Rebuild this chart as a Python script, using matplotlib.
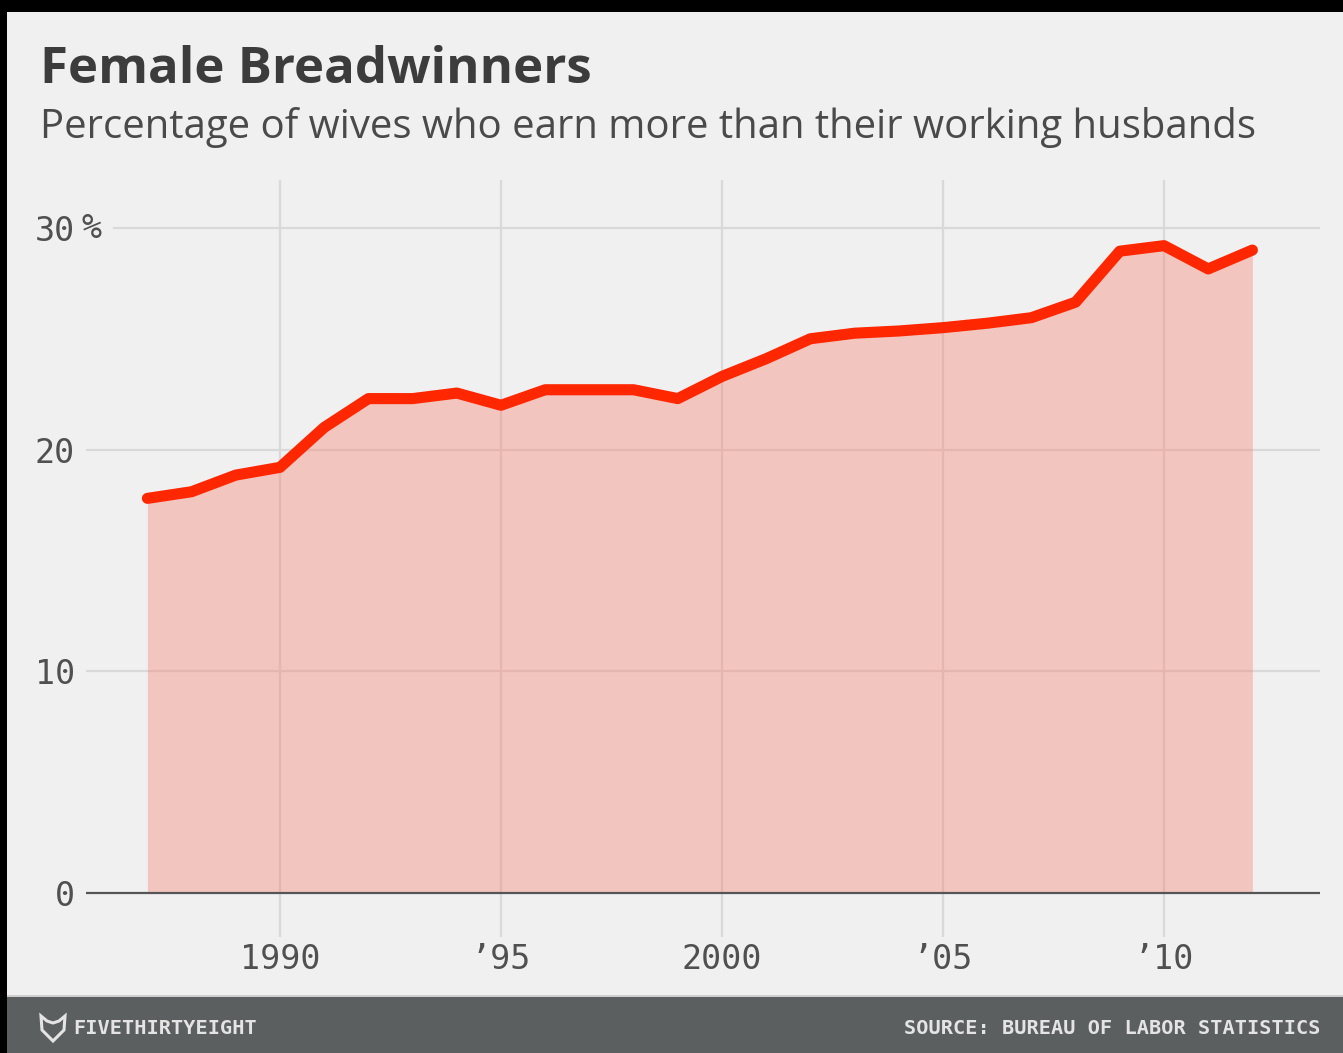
import matplotlib
matplotlib.use("Agg")
import matplotlib.pyplot as plt
from matplotlib.patches import Rectangle, Polygon

years = list(range(1987, 2013))
share = [17.8, 18.1, 18.85, 19.2, 21.0, 22.3, 22.3, 22.55, 22.0, 22.7,
         22.7, 22.7, 22.3, 23.3, 24.1, 25.0, 25.25, 25.35, 25.5, 25.7,
         25.95, 26.65, 28.95, 29.2, 28.15, 29.0]
x_ticks = [1990, 1995, 2000, 2005, 2010]
x_labels = ["1990", "\u201995", "2000", "\u201905", "\u201910"]
y_ticks = [0, 10, 20, 30]
y_labels = ["0", "10", "20", "30"]

W, H = 1343, 1053
BG = "#f0f0f0"
fig = plt.figure(figsize=(W / 100, H / 100), dpi=100)
fig.patch.set_facecolor("black")

def fx(px):
    return px / W

def fy(py):
    return 1 - py / H

# light background panel (black border on top and left)
fig.add_artist(Rectangle((fx(7), 0), 1, fy(12), transform=fig.transFigure,
                         facecolor=BG, edgecolor="none", zorder=0))
# footer band
fig.add_artist(Rectangle((fx(7), 0), 1, fy(995), transform=fig.transFigure,
                         facecolor="#cfcfcf", edgecolor="none", zorder=1))
fig.add_artist(Rectangle((fx(7), 0), 1, fy(997), transform=fig.transFigure,
                         facecolor="#5b5f60", edgecolor="none", zorder=2))

# axes
ax_l, ax_r, ax_t, ax_b = 86, 1320, 180, 937
ax = fig.add_axes([fx(ax_l), fy(ax_b), fx(ax_r - ax_l), (ax_b - ax_t) / H])
ax.set_facecolor("none")
ymin = -(ax_b - 893) / 22.17
ymax = (893 - ax_t) / 22.17
xmin = 1990 - (280 - ax_l) / 44.2
xmax = 1990 + (ax_r - 280) / 44.2
ax.set_xlim(xmin, xmax)
ax.set_ylim(ymin, ymax)

for s in ax.spines.values():
    s.set_visible(False)

grid_c = "#d9d9d9"
for xt in x_ticks:
    ax.axvline(xt, color=grid_c, lw=1.6, zorder=1)
for yt in y_ticks[1:]:
    start = (114 - ax_l) / (ax_r - ax_l) if yt == 30 else 0
    ax.axhline(yt, xmin=start, xmax=1, color=grid_c, lw=1.6, zorder=1)

ax.fill_between(years, 0, share, color="#fa7f6f", alpha=0.38, lw=0, zorder=2)
ax.axhline(0, color="#555555", lw=1.6, zorder=3)
ax.plot(years, share, color="#ff2700", lw=8, solid_capstyle="round",
        solid_joinstyle="round", zorder=4)

tick_font = dict(family="DejaVu Sans Mono", size=24, color="#505050")
ax.set_xticks(x_ticks)
ax.set_xticklabels(x_labels, **tick_font)
ax.set_yticks(y_ticks)
ax.set_yticklabels(y_labels, **tick_font)
ax.tick_params(axis="both", length=0)
ax.tick_params(axis="y", pad=8)
ax.tick_params(axis="x", pad=4)
fig.text(fx(82), fy(228), "%", ha="left", va="center", **tick_font)

# titles
fig.text(fx(40), fy(83), "Female Breadwinners", family="Open Sans", weight="bold",
         size=36.6, color="#3c3c3c", ha="left", va="baseline")
fig.text(fx(40), fy(138), "Percentage of wives who earn more than their working husbands",
         family="Open Sans", size=28.9, color="#4a4a4a", ha="left", va="baseline")

# footer
foot = dict(family="DejaVu Sans Mono", weight="bold",
            size=14.6, color="#e4e4e4", va="center")
fig.text(fx(73), fy(1029), "FIVETHIRTYEIGHT", ha="left", **foot)
fig.text(fx(1320), fy(1029), "SOURCE: BUREAU OF LABOR STATISTICS", ha="right", **foot)

# simple fox-head logo
pts = [(41, 1016), (47, 1021), (53, 1023), (59, 1021), (65, 1016), (64, 1030),
       (53, 1041), (42, 1030)]
fig.add_artist(Polygon([(fx(a), fy(b)) for a, b in pts], closed=True,
                       transform=fig.transFigure, facecolor="none",
                       edgecolor="#e4e4e4", lw=2.2, zorder=5))

fig.savefig("out.png", dpi=100, facecolor=fig.get_facecolor())
